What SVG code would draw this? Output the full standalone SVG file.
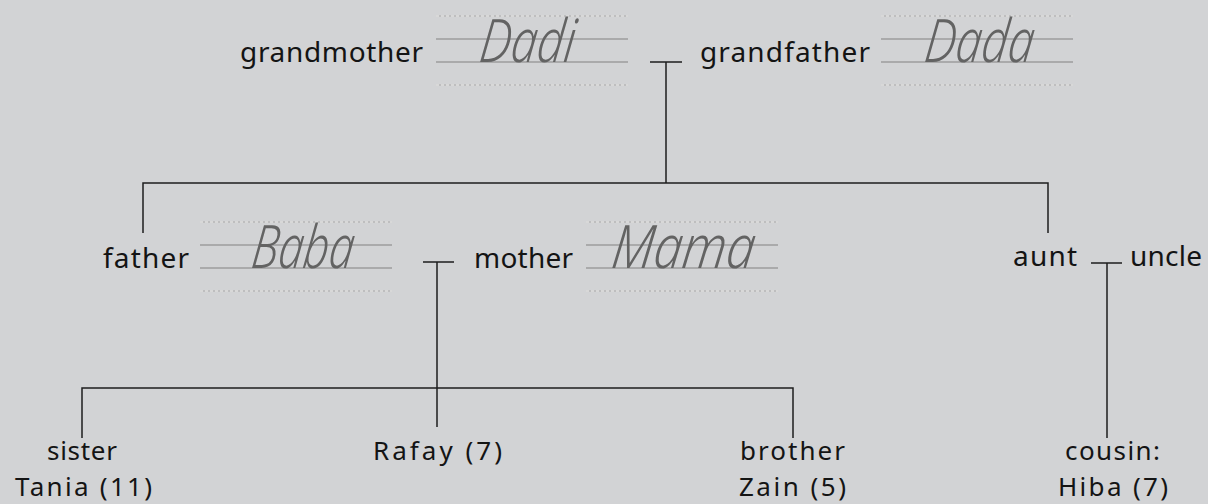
<svg xmlns="http://www.w3.org/2000/svg" width="1208" height="504" viewBox="0 0 1208 504">
<style>
.bg{fill:#d2d3d5}
.lbl{font-family:"Noto Sans","DejaVu Sans",sans-serif;font-size:28px;fill:#141414}
.sm{font-size:26px}
.hw{font-family:"Noto Sans","DejaVu Sans",sans-serif;font-style:italic;font-weight:300;font-size:60px;fill:#636363}
.solid{stroke:#9c9c9c;stroke-width:1.5;fill:none}
.dashbase{stroke:#a9a9a9;stroke-width:1.2;fill:none}
.dash{stroke:#f2f2f2;stroke-width:1.2;stroke-dasharray:3 2;fill:none}
.conn{stroke:#1e1e1e;stroke-width:1.5;fill:none}
</style>
<defs>
<g id="lines">
<line class="dashbase" x1="0" y1="0" x2="192" y2="0"/>
<line class="dash" x1="0" y1="0" x2="192" y2="0"/>
<line class="solid" x1="0" y1="23" x2="192" y2="23"/>
<line class="solid" x1="0" y1="46" x2="192" y2="46"/>
<line class="dashbase" x1="0" y1="69" x2="192" y2="69"/>
<line class="dash" x1="0" y1="69" x2="192" y2="69"/>
</g>
</defs>
<rect class="bg" x="0" y="0" width="1208" height="504"/>
<g id="connectors">
<path class="conn" d="M650 62H682M666 62V183"/>
<path class="conn" d="M143 233V183H1048V233"/>
<path class="conn" d="M423 262H454M437 262V427"/>
<path class="conn" d="M82 438V388H793V438"/>
<path class="conn" d="M1091 263H1122M1107 263V438"/>
</g>
<g id="grandmother">
<text class="lbl" x="240" y="62" textLength="183">grandmother</text>
<use href="#lines" x="436" y="16"/>
<text class="hw" transform="translate(478,62) skewX(-7)" x="0" y="0" textLength="95" lengthAdjust="spacingAndGlyphs">Dadi</text>
</g>
<g id="grandfather">
<text class="lbl" x="700" y="62" textLength="170">grandfather</text>
<use href="#lines" x="881" y="16"/>
<text class="hw" transform="translate(923,62) skewX(-7)" x="0" y="0" textLength="109" lengthAdjust="spacingAndGlyphs">Dada</text>
</g>
<g id="father">
<text class="lbl" x="103" y="268" textLength="86">father</text>
<use href="#lines" x="200" y="222"/>
<text class="hw" transform="translate(250,268) skewX(-7)" x="0" y="0" textLength="102" lengthAdjust="spacingAndGlyphs">Baba</text>
</g>
<g id="mother">
<text class="lbl" x="474" y="268" textLength="99">mother</text>
<use href="#lines" x="586" y="222"/>
<text class="hw" transform="translate(610,268) skewX(-7)" x="0" y="0" textLength="143" lengthAdjust="spacingAndGlyphs">Mama</text>
</g>
<g id="aunt">
<text class="lbl" x="1013" y="266" textLength="64">aunt</text>
</g>
<g id="uncle">
<text class="lbl" x="1130" y="266" textLength="72">uncle</text>
</g>
<g id="sister">
<text class="lbl sm" x="47" y="460" textLength="70">sister</text>
<text class="lbl sm" x="15" y="496" textLength="137">Tania (11)</text>
</g>
<g id="rafay">
<text class="lbl sm" x="373" y="460" textLength="129">Rafay (7)</text>
</g>
<g id="brother">
<text class="lbl sm" x="740" y="460" textLength="105">brother</text>
<text class="lbl sm" x="739" y="496" textLength="107">Zain (5)</text>
</g>
<g id="cousin">
<text class="lbl sm" x="1065" y="460" textLength="95">cousin:</text>
<text class="lbl sm" x="1058" y="496" textLength="110">Hiba (7)</text>
</g>
</svg>
